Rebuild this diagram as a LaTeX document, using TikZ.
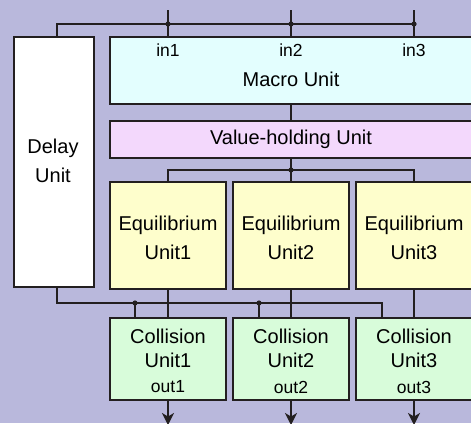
\documentclass[tikz,border=0pt]{standalone}
\usepackage{fontspec}
\setmainfont{Liberation Sans}
\usetikzlibrary{arrows.meta}
\definecolor{bg}{HTML}{B9B8DC}
\definecolor{lc}{HTML}{231F20}
\definecolor{macrof}{HTML}{E3FEFE}
\definecolor{valuef}{HTML}{F3D8FC}
\definecolor{equif}{HTML}{FEFECC}
\definecolor{collf}{HTML}{D8FCDA}
\tikzset{
  unitbox/.style={draw=lc, line width=1.8pt, inner sep=0pt, outer sep=0pt, anchor=north west},
  mainlbl/.style={text=black, inner sep=0pt, align=center, font=\fontsize{20}{29}\selectfont},
  smalllbl/.style={text=black, inner sep=0pt, align=center, font=\fontsize{17.5}{22}\selectfont},
  wire/.style={draw=lc, line width=1.8pt},
  junction/.style={fill=lc},
  outarrow/.style={wire, -{Stealth[length=12pt, width=12pt, inset=3.5pt]}}
}
\begin{document}
\begin{tikzpicture}[x=1pt, y=-1pt]
\useasboundingbox (0,0) rectangle (471,423);
\clip (0,0) rectangle (471,423);
\fill[bg] (0,0) rectangle (471,423);

% boxes
\node[unitbox, fill=white, minimum width=80pt, minimum height=250pt] (delay) at (14,37) {};
\node[unitbox, fill=macrof, minimum width=363pt, minimum height=67pt] (macro) at (110,37) {};
\node[unitbox, fill=valuef, minimum width=363pt, minimum height=37pt] (value) at (110,121) {};
\node[unitbox, fill=equif, minimum width=116pt, minimum height=107pt] (e1) at (110,182) {};
\node[unitbox, fill=equif, minimum width=116pt, minimum height=107pt] (e2) at (233,182) {};
\node[unitbox, fill=equif, minimum width=116pt, minimum height=107pt] (e3) at (356,182) {};
\node[unitbox, fill=collf, minimum width=116pt, minimum height=82pt] (c1) at (110,318) {};
\node[unitbox, fill=collf, minimum width=116pt, minimum height=82pt] (c2) at (233,318) {};
\node[unitbox, fill=collf, minimum width=116pt, minimum height=82pt] (c3) at (356,318) {};

% labels
\node[mainlbl] (delaylbl) at (53,161) {Delay\\Unit};
\node[smalllbl] (in1) at (168,50) {in1};
\node[smalllbl] (in2) at (291,50) {in2};
\node[smalllbl] (in3) at (414,50) {in3};
\node[mainlbl] (macrolbl) at (291,79) {Macro Unit};
\node[mainlbl] (valuelbl) at (291,139) {Value-holding Unit};
\node[mainlbl] (e1lbl) at (168,238) {Equilibrium\\Unit1};
\node[mainlbl] (e2lbl) at (291,238) {Equilibrium\\Unit2};
\node[mainlbl] (e3lbl) at (414,238) {Equilibrium\\Unit3};
\node[mainlbl, font=\fontsize{20}{24}\selectfont] (c1lbl) at (168,348) {Collision\\Unit1};
\node[mainlbl, font=\fontsize{20}{24}\selectfont] (c2lbl) at (291,348) {Collision\\Unit2};
\node[mainlbl, font=\fontsize{20}{24}\selectfont] (c3lbl) at (414,348) {Collision\\Unit3};
\node[smalllbl] (o1) at (168,387) {out1};
\node[smalllbl] (o2) at (291,387) {out2};
\node[smalllbl] (o3) at (414,387) {out3};

% input wires
\coordinate (t1) at (168,10);
\coordinate (t2) at (291,10);
\coordinate (t3) at (414,10);
\coordinate (b0) at (57,24);
\coordinate (b1) at (168,24);
\coordinate (b2) at (291,24);
\coordinate (b3) at (414,24);
\draw[wire] (t1) -- (t1 |- macro.north);
\draw[wire] (t2) -- (t2 |- macro.north);
\draw[wire] (t3) -- (t3 |- macro.north);
\draw[wire] (b0 |- delay.north) -- (b0) -- (b3);
\fill[junction] (b1) circle (2.6pt);
\fill[junction] (b2) circle (2.6pt);
\fill[junction] (b3) circle (2.6pt);

% macro -> value
\draw[wire] (macro.south -| b2) -- (value.north -| b2);

% value -> equilibrium
\coordinate (v) at (291,170);
\draw[wire] (value.south -| v) -- (v);
\draw[wire] (e1.north) -- (e1.north |- v) -- (e3.north |- v) -- (e3.north);
\draw[wire] (v) -- (e2.north);
\fill[junction] (v) circle (2.6pt);

% equilibrium -> collision
\draw[wire] (e1.south) -- (c1.north);
\draw[wire] (e2.south) -- (c2.north);
\draw[wire] (e3.south) -- (c3.north);

% delay -> collision
\coordinate (d0) at (57,303);
\coordinate (dj1) at (135,303);
\coordinate (dj2) at (259,303);
\coordinate (dj3) at (382,303);
\draw[wire] (delay.south -| d0) -- (d0) -- (dj3) -- (dj3 |- c3.north);
\draw[wire] (dj1) -- (dj1 |- c1.north);
\draw[wire] (dj2) -- (dj2 |- c2.north);
\fill[junction] (dj1) circle (2.6pt);
\fill[junction] (dj2) circle (2.6pt);

% outputs
\coordinate (x1) at (168,425);
\coordinate (x2) at (291,425);
\coordinate (x3) at (414,425);
\draw[outarrow] (c1.south) -- (x1);
\draw[outarrow] (c2.south) -- (x2);
\draw[outarrow] (c3.south) -- (x3);
\end{tikzpicture}
\end{document}
